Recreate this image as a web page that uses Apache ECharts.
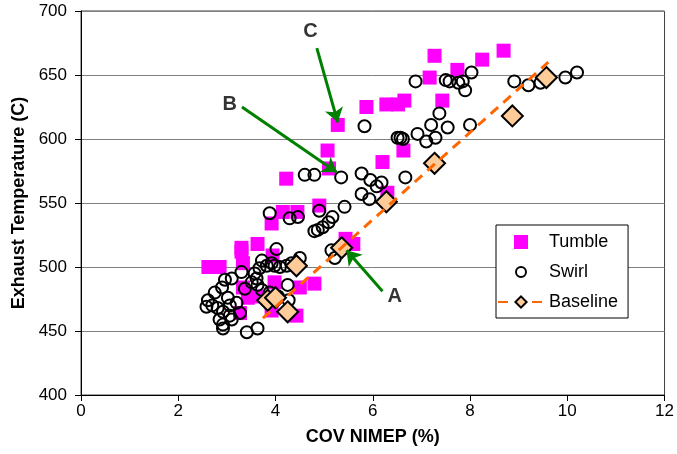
<!DOCTYPE html>
<html>
<head>
<meta charset="utf-8">
<script src="https://cdn.jsdelivr.net/npm/echarts@6/dist/echarts.min.js"></script>
<style>
  html, body { margin: 0; padding: 0; background: #fff; }
  #chart { width: 677px; height: 454px; }
</style>
</head>
<body>
<div id="chart"></div>
<script>
// COV NIMEP (%) vs exhaust temperature (C)
const tumble = [
  [2.62, 500], [2.85, 500], [3.3, 512], [3.33, 503], [3.63, 518], [3.94, 509],
  [3.33, 484], [3.43, 476], [3.27, 464], [3.6, 477], [3.98, 488], [3.92, 466],
  [4.43, 462], [4.5, 484], [4.8, 487], [3.3, 515], [3.92, 534], [4.15, 543],
  [4.45, 543], [4.22, 569], [4.9, 548], [5.07, 591], [5.1, 577], [5.28, 611],
  [5.44, 522], [5.6, 518], [5.87, 625], [6.2, 582], [6.3, 558], [6.28, 627],
  [6.52, 627], [6.65, 630], [6.63, 591], [7.17, 648], [7.27, 665], [7.43, 630],
  [7.74, 654], [8.25, 662], [8.69, 669]
];
const swirl = [
  [5.83, 610], [6.51, 601], [6.57, 601], [6.62, 600], [6.92, 604], [7.1, 598],
  [7.29, 601], [7.2, 611], [7.54, 609], [8.0, 611], [7.37, 620], [6.88, 645],
  [7.5, 646], [7.58, 645], [7.76, 644], [7.85, 645], [8.03, 652], [7.9, 638],
  [8.91, 645], [9.2, 642], [9.45, 644], [9.96, 648], [10.2, 652],
  [4.6, 572], [4.8, 572], [5.35, 570], [5.77, 573], [5.95, 568], [6.18, 566],
  [6.08, 563], [5.77, 557], [5.93, 553], [6.67, 570], [5.42, 547], [5.17, 539],
  [4.9, 544], [4.29, 538], [4.46, 539], [5.09, 535], [4.97, 531], [4.87, 529],
  [4.8, 528], [5.15, 513], [5.22, 507], [3.88, 542],
  [4.02, 514], [3.92, 503], [3.72, 505], [3.82, 501], [3.98, 501], [4.09, 500],
  [4.23, 501], [4.33, 503], [4.5, 507], [3.3, 496], [3.1, 491], [2.96, 490],
  [2.9, 484], [2.75, 480], [2.61, 474], [2.7, 470], [2.58, 469], [2.81, 468],
  [2.92, 465], [2.85, 459], [2.92, 455], [2.92, 452], [3.06, 462], [3.1, 459],
  [3.27, 464], [3.37, 483], [3.51, 488], [3.63, 486], [3.61, 491], [3.72, 482],
  [3.88, 480], [4.25, 486], [3.41, 449], [3.63, 452], [3.02, 476], [3.06, 470],
  [3.2, 472], [3.57, 495], [3.67, 499], [4.27, 474], [4.05, 477]
];
const baseline = [
  [3.84, 474], [4.0, 476], [4.25, 465], [4.43, 501], [5.36, 515],
  [6.28, 551], [7.27, 581], [8.87, 618], [9.57, 648]
];
const trendLine = [[3.74, 460], [9.61, 660]];
const notes = [
  { name: 'A', value: [6.45, 477] },
  { name: 'B', value: [3.06, 627] },
  { name: 'C', value: [4.72, 684] }
];
const arrows = [
  [[6.2, 481], [5.46, 513]],
  [[3.31, 625], [5.26, 574]],
  [[4.85, 671], [5.28, 613]]
];

const chart = echarts.init(document.getElementById('chart'));
const font = 'Liberation Sans, Arial, sans-serif';

chart.setOption({
  animation: false,
  textStyle: { fontFamily: font },
  grid: {
    left: 81, right: 12, top: 11, bottom: 59,
    show: true, borderColor: '#404040', borderWidth: 1
  },
  legend: {
    data: [
      { name: 'Tumble', icon: 'path://M0,0L14,0L14,14L0,14Z' },
      { name: 'Swirl', icon: 'path://M0,0M14,14M2,7A5,5,0,1,1,12,7A5,5,0,1,1,2,7Z' },
      { name: 'Baseline' }
    ],
    orient: 'vertical',
    left: 496, top: 225,
    padding: [8, 10, 7, 1],
    itemWidth: 46, itemHeight: 14, itemGap: 12,
    symbolKeepAspect: true,
    backgroundColor: '#fff',
    borderColor: '#000', borderWidth: 1, borderRadius: 0,
    textStyle: { fontSize: 18, color: '#000', fontFamily: font }
  },
  xAxis: {
    type: 'value', min: 0, max: 12, interval: 2,
    name: 'COV NIMEP (%)', nameLocation: 'middle', nameGap: 33,
    nameTextStyle: { fontSize: 18, fontWeight: 'bold', color: '#000' },
    axisLine: { lineStyle: { color: '#000' } },
    axisTick: { show: true, length: 6, lineStyle: { color: '#000' } },
    axisLabel: { fontSize: 17, color: '#000', margin: 8 },
    splitLine: { show: false }
  },
  yAxis: {
    type: 'value', min: 400, max: 700, interval: 50,
    name: 'Exhaust Temperature (C)', nameLocation: 'middle', nameGap: 52,
    nameTextStyle: { fontSize: 18, fontWeight: 'bold', color: '#000' },
    axisLine: { show: true, lineStyle: { color: '#000' } },
    axisTick: { show: true, length: 6, lineStyle: { color: '#000' } },
    axisLabel: { fontSize: 17, color: '#000', margin: 14 },
    splitLine: { show: true, lineStyle: { color: '#808080', width: 1 } }
  },
  series: [
    {
      name: 'Tumble', type: 'scatter', data: tumble,
      symbol: 'rect', symbolSize: 14,
      itemStyle: { color: '#FF00FF', opacity: 1 }
    },
    {
      name: 'Swirl', type: 'scatter', data: swirl,
      symbol: 'circle', symbolSize: 12,
      itemStyle: { color: 'rgba(255,255,255,0)', borderColor: '#000', borderWidth: 2, opacity: 1 }
    },
    {
      name: 'Baseline', type: 'line', data: trendLine,
      symbol: 'diamond', symbolSize: 14, showSymbol: false,
      lineStyle: { color: '#FF6600', width: 3, type: [10, 7] },
      itemStyle: { color: '#FFCC99', borderColor: '#000', borderWidth: 2 }
    },
    {
      name: 'Baseline', type: 'scatter', data: baseline,
      symbol: 'diamond', symbolSize: 21,
      itemStyle: { color: '#FFCC99', borderColor: '#000', borderWidth: 2, opacity: 1 }
    },
    {
      name: 'notes', type: 'scatter', data: notes,
      symbolSize: 0, silent: true,
      label: {
        show: true, formatter: '{b}', position: 'inside',
        fontSize: 20, fontWeight: 'bold', color: '#000'
      },
      markLine: {
        silent: true, animation: false,
        symbol: ['none', 'arrow'], symbolSize: 14,
        label: { show: false },
        lineStyle: { color: '#008000', width: 3, type: 'solid' },
        emphasis: { disabled: true },
        data: arrows.map(a => [{ coord: a[0] }, { coord: a[1] }])
      }
    }
  ]
});
</script>
</body>
</html>
